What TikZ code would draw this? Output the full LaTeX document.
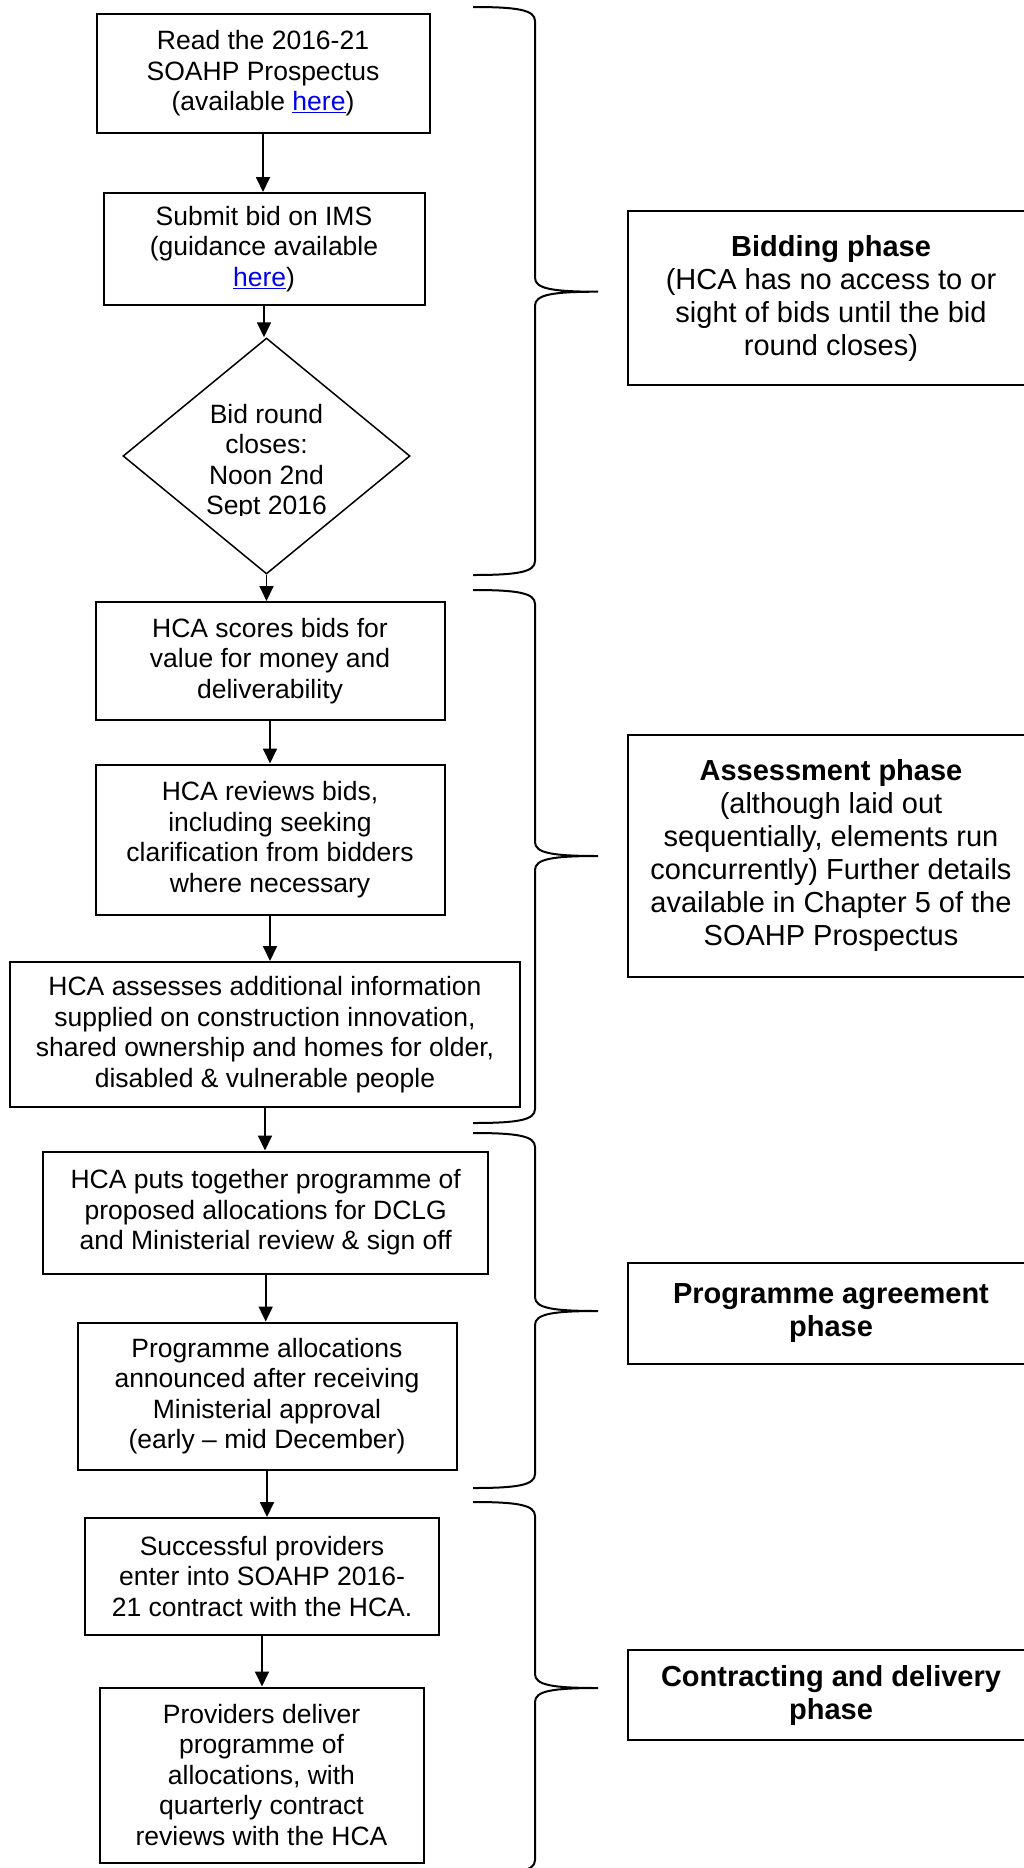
\documentclass[tikz,border=0pt]{standalone}
\usepackage{fontspec}
\setmainfont{Liberation Sans}
\usepackage{xcolor}
\usepackage{tikz}
\usetikzlibrary{shapes.geometric,arrows.meta}

\definecolor{linkblue}{RGB}{0,0,238}
\newcommand{\stepfont}{\fontsize{26.5}{30.5}\selectfont}
\newcommand{\phasefont}{\fontsize{29}{33}\selectfont}
\newcommand{\weblink}[1]{\textcolor{linkblue}{\underline{#1}}}
% right brace: top, tip, bottom
\newcommand{\phasebrace}[3]{%
  \draw[brace] (473,#1) .. controls (518,#1) and (535,#1+3) .. (535,#1+14)
    -- (535,#2-14) .. controls (535,#2-3) and (552,#2) .. (598,#2)
    .. controls (552,#2) and (535,#2+3) .. (535,#2+14)
    -- (535,#3-14) .. controls (535,#3-3) and (518,#3) .. (473,#3);}

\begin{document}
\begin{tikzpicture}[x=1pt, y=-1pt,
    stepbox/.style={draw, line width=2pt, align=center, inner sep=0pt, font=\stepfont},
    phasebox/.style={draw, line width=2pt, align=center, inner sep=0pt, font=\phasefont, minimum width=406pt},
    arr/.style={-{Triangle[width=14pt,length=15pt]}, line width=1.8pt},
    brace/.style={line width=2pt}]
    \useasboundingbox (0,0) rectangle (1024,1868);
    \fill[white] (0,0) rectangle (1024,1868);

    % Bidding phase steps
    \node[stepbox, minimum width=333pt, minimum height=119pt] (read) at (263,73.5)
        {Read the 2016-21\\SOAHP Prospectus\\(available \weblink{here})};
    \node[stepbox, minimum width=321pt, minimum height=112pt] (submit) at (264,249)
        {Submit bid on IMS\\(guidance available\\\weblink{here})};
    \node[draw, shape=diamond, line width=1.5pt, inner sep=0pt,
        minimum width=287pt, minimum height=236pt] (closes) at (266.5,456) {};
    \begin{scope}
        \clip (150,395) rectangle (385,515);
        \node[align=center, inner sep=0pt, font=\stepfont] (closestxt) at (266.5,462)
            {Bid round\\closes:\\Noon 2nd\\Sept 2016};
    \end{scope}

    % Assessment phase steps
    \node[stepbox, minimum width=349pt, minimum height=118pt] (scores) at (270,661)
        {HCA scores bids for\\value for money and\\deliverability};
    \node[stepbox, minimum width=349pt, minimum height=150pt] (reviews) at (270,839.5)
        {HCA reviews bids,\\including seeking\\clarification from bidders\\where necessary};
    \node[stepbox, minimum width=510pt, minimum height=145pt] (assesses) at (265,1034.5)
        {HCA assesses additional information\\supplied on construction innovation,\\shared ownership and homes for older,\\disabled \& vulnerable people};

    % Programme agreement steps
    \node[stepbox, minimum width=445pt, minimum height=122pt] (together) at (265.7,1212.5)
        {HCA puts together programme of\\proposed allocations for DCLG\\and Ministerial review \& sign off};
    \node[stepbox, minimum width=379pt, minimum height=147pt] (announced) at (267,1396)
        {Programme allocations\\announced after receiving\\Ministerial approval\\(early – mid December)};

    % Contracting steps
    \node[stepbox, minimum width=354pt, minimum height=117pt] (successful) at (262,1576.5)
        {Successful providers\\enter into SOAHP 2016-\\21 contract with the HCA.};
    \node[stepbox, minimum width=324pt, minimum height=175pt] (deliver) at (261.5,1775)
        {Providers deliver\\programme of\\allocations, with\\quarterly contract\\reviews with the HCA};

    % Arrows
    \draw[arr] (read) -- (read |- submit.north);
    \draw[arr] (submit) -- (submit |- closes.north);
    \draw[arr] (closes) -- (closes |- scores.north);
    \draw[arr] (scores) -- (scores |- reviews.north);
    \draw[arr] (reviews) -- (reviews |- assesses.north);
    \draw[arr] (assesses) -- (assesses |- together.north);
    \draw[arr] (together) -- (together |- announced.north);
    \draw[arr] (announced) -- (announced |- successful.north);
    \draw[arr] (successful) -- (successful |- deliver.north);

    % Braces
    \phasebrace{7}{291.7}{575}
    \phasebrace{590}{856}{1123}
    \phasebrace{1133}{1311}{1488}
    \phasebrace{1502}{1688}{1874}

    % Phase boxes
    \node[phasebox, minimum height=174.5pt] (bidding) at (831,298.2)
        {\textbf{Bidding phase}\\(HCA has no access to or\\sight of bids until the bid\\round closes)};
    \node[phasebox, minimum height=241.7pt] (assessment) at (831,855.8)
        {\textbf{Assessment phase}\\(although laid out\\sequentially, elements run\\concurrently) Further details\\available in Chapter 5 of the\\SOAHP Prospectus};
    \node[phasebox, minimum height=101.3pt] (agreement) at (831,1313.3)
        {\textbf{Programme agreement}\\\textbf{phase}};
    \node[phasebox, minimum height=90.5pt] (contracting) at (831,1695.2)
        {\textbf{Contracting and delivery}\\\textbf{phase}};
\end{tikzpicture}
\end{document}
